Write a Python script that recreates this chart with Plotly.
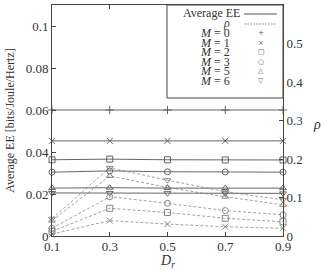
import plotly.graph_objects as go

dr = [0.1, 0.3, 0.5, 0.7, 0.9]
m_labels = ["0", "1", "2", "3", "5", "6"]
ee_m0 = [0.060, 0.060, 0.060, 0.060, 0.060]
ee_m1 = [0.0453, 0.0453, 0.0453, 0.0453, 0.0453]
ee_m2 = [0.0363, 0.0366, 0.0363, 0.0362, 0.0362]
ee_m3 = [0.0304, 0.0310, 0.0306, 0.0305, 0.0304]
ee_m5 = [0.0228, 0.0230, 0.0228, 0.0228, 0.0228]
ee_m6 = [0.0205, 0.0205, 0.0204, 0.0203, 0.0203]
rho_m1 = [0.005, 0.040, 0.031, 0.024, 0.020]
rho_m2 = [0.012, 0.072, 0.061, 0.046, 0.037]
rho_m3 = [0.020, 0.102, 0.085, 0.066, 0.055]
rho_m5 = [0.040, 0.156, 0.126, 0.102, 0.081]
rho_m6 = [0.045, 0.177, 0.145, 0.115, 0.094]
left_ticks = [0, 0.02, 0.04, 0.06, 0.08, 0.1]
right_ticks = [0, 0.1, 0.2, 0.3, 0.4, 0.5, 0.6]

FONT = "Liberation Serif"
solid_col = "#555555"
dash_col = "#7a7a7a"
axis_col = "#444444"
text_col = "#333333"

ee_series = [ee_m0, ee_m1, ee_m2, ee_m3, ee_m5, ee_m6]
rho_series = [None, rho_m1, rho_m2, rho_m3, rho_m5, rho_m6]
symbols = ["cross-thin-open", "x-thin-open", "square-open", "circle-open",
           "triangle-up-open", "triangle-down-open"]
glyphs = ["+", "×", "□", "○", "△", "▽"]

fig = go.Figure()
for ee, rho, sym in zip(ee_series, rho_series, symbols):
    fig.add_trace(go.Scatter(
        x=dr, y=ee, mode="lines+markers", cliponaxis=False,
        line=dict(color=solid_col, width=0.9),
        marker=dict(symbol=sym, size=6, color=solid_col, line=dict(width=0.9, color=solid_col)),
        showlegend=False))
    if rho is not None:
        fig.add_trace(go.Scatter(
            x=dr, y=rho, yaxis="y2", mode="lines+markers", cliponaxis=False,
            line=dict(color=dash_col, width=0.7, dash="3px,2px"),
            marker=dict(symbol=sym, size=6, color=dash_col, line=dict(width=0.9, color=dash_col)),
            showlegend=False))

# plot area geometry in pixels
L, R, T, B = 52, 283, 5, 236
W, H = 329, 270
def px(x):
    return (x - L) / (R - L)
def py(y):
    return (B - y) / (B - T)

shapes = [dict(type="rect", xref="paper", yref="paper",
               x0=px(167), x1=px(283), y0=py(98), y1=py(5),
               line=dict(color=axis_col, width=1), fillcolor="white", layer="above")]
annotations = []
rows = [13, 23, 33, 42.5, 52, 62, 71.5, 81]
texts = ["Average EE", "<i>ρ</i>"] + [f"<i>M</i> = {m}" for m in m_labels]
for i, (ry, t) in enumerate(zip(rows, texts)):
    xr = 242 if i == 0 else 232
    annotations.append(dict(xref="paper", yref="paper", x=px(xr), y=py(ry),
                            xanchor="right", yanchor="middle", text=t, showarrow=False,
                            font=dict(family=FONT, size=12, color=text_col)))
shapes.append(dict(type="line", xref="paper", yref="paper", x0=px(244), x1=px(277),
                   y0=py(14), y1=py(14), line=dict(color=solid_col, width=1), layer="above"))
shapes.append(dict(type="line", xref="paper", yref="paper", x0=px(244), x1=px(277),
                   y0=py(24), y1=py(24), line=dict(color=dash_col, width=0.8, dash="2px,1px"), layer="above"))
for ry, g in zip(rows[2:], glyphs):
    annotations.append(dict(xref="paper", yref="paper", x=px(261), y=py(ry),
                            xanchor="center", yanchor="middle", text=g, showarrow=False,
                            font=dict(family="DejaVu Sans", size=7, color="#555555")))

annotations.append(dict(xref="paper", yref="paper", x=px(317), y=py(125), xanchor="center",
                        yanchor="middle", text="<i>ρ</i>", showarrow=False,
                        font=dict(family=FONT, size=14, color=text_col)))
annotations.append(dict(xref="paper", yref="paper", x=px(167), y=py(261), xanchor="center",
                        yanchor="middle", text="<i>D</i><sub><i>r</i></sub>", showarrow=False,
                        font=dict(family=FONT, size=14, color=text_col)))

fig.update_layout(
    width=W, height=H,
    margin=dict(l=L, r=W - R, t=T, b=H - B),
    paper_bgcolor="white", plot_bgcolor="white",
    font=dict(family=FONT, size=13, color=text_col),
    showlegend=False, hovermode=False,
    xaxis=dict(range=[0.1, 0.9], tickvals=dr, ticktext=[f"{v:g}" for v in dr],
               ticks="inside", ticklen=4, tickcolor=axis_col, ticklabelstandoff=-2,
               showline=True, linecolor=axis_col, linewidth=1, mirror="ticks",
               showgrid=False, zeroline=False),
    yaxis=dict(range=[0, 0.11], tickvals=left_ticks, ticktext=[f"{v:g}" for v in left_ticks],
               ticks="inside", ticklen=4, tickcolor=axis_col,
               showline=True, linecolor=axis_col, linewidth=1,
               showgrid=False, zeroline=False,
               title=dict(text="Average EE [bits/Joule/Hertz]", standoff=8,
                          font=dict(family=FONT, size=12))),
    yaxis2=dict(range=[0, 0.6], overlaying="y", side="right",
                tickvals=right_ticks, ticktext=[f"{v:g}" for v in right_ticks],
                ticks="inside", ticklen=4, tickcolor=axis_col,
                showline=True, linecolor=axis_col, linewidth=1,
                showgrid=False, zeroline=False),
    shapes=shapes, annotations=annotations,
)
fig.write_html("out.html", config={"displayModeBar": False},
               post_script="document.body.style.margin='0px';document.body.style.overflow='hidden';")
